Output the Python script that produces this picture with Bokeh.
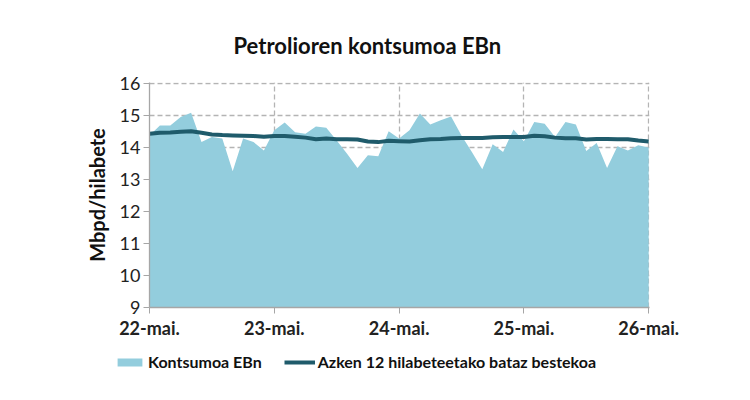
from bokeh.plotting import figure
from bokeh.layouts import column
from bokeh.models import (Range1d, FixedTicker, Legend, LegendItem, Title)
from bokeh.embed import file_html
from bokeh.resources import INLINE

# Monthly data, May 2022 .. May 2026 (49 months)
consumption = [14.37, 14.68, 14.68, 14.94, 15.08, 14.16, 14.32, 14.27, 13.25, 14.27,
               14.16, 13.90, 14.53, 14.77, 14.47, 14.42, 14.65, 14.61, 14.21, 13.80,
               13.35, 13.75, 13.72, 14.50, 14.27, 14.53, 15.05, 14.71, 14.84, 14.96,
               14.37, 13.85, 13.31, 14.09, 13.85, 14.55, 14.19, 14.79, 14.73, 14.32,
               14.79, 14.71, 13.88, 14.13, 13.35, 14.03, 13.90, 14.06, 13.99]
avg12 = [14.42, 14.45, 14.46, 14.48, 14.50, 14.45, 14.40, 14.38, 14.37, 14.36,
         14.35, 14.33, 14.35, 14.35, 14.33, 14.30, 14.25, 14.27, 14.25, 14.25,
         14.24, 14.18, 14.16, 14.20, 14.19, 14.18, 14.22, 14.25, 14.26, 14.28,
         14.29, 14.29, 14.29, 14.31, 14.32, 14.32, 14.32, 14.36, 14.34, 14.30,
         14.28, 14.28, 14.24, 14.26, 14.26, 14.25, 14.25, 14.21, 14.18]
months = list(range(len(consumption)))
tick_positions = [0, 12, 24, 36, 48]
tick_labels = ["22-mai.", "23-mai.", "24-mai.", "25-mai.", "26-mai."]
title_text = "Petrolioren kontsumoa EBn"
y_label = "Mbpd/hilabete"
series_names = ["Kontsumoa EBn", "Azken 12 hilabeteetako bataz bestekoa"]

FONT = "Lato"
AREA = "#93cddd"
LINE = "#1f5b6b"
GRID = "#b4b4b4"

p = figure(width=750, height=345, output_backend="svg", toolbar_location=None,
           x_range=Range1d(0, 48.08), y_range=Range1d(9, 16.02),
           min_border_left=149, min_border_right=101, min_border_top=82,
           min_border_bottom=38, title=None)
p.outline_line_color = None
p.background_fill_color = "white"
p.border_fill_color = "white"

# grids
p.xgrid.ticker = FixedTicker(ticks=[12, 24, 36, 48])
p.ygrid.ticker = FixedTicker(ticks=list(range(10, 17)))
for g in (p.xgrid, p.ygrid):
    g.grid_line_color = GRID
    g.grid_line_dash = "5 3"
    g.grid_line_width = 1.3
p.ygrid.level = "underlay"
p.xgrid.level = "underlay"

area = p.varea(x=months, y1=[9] * len(months), y2=consumption, fill_color=AREA,
               fill_alpha=1.0)
line = p.line(x=months, y=avg12, line_color=LINE, line_width=4)

# axes
p.xaxis.ticker = FixedTicker(ticks=tick_positions)
p.xaxis.major_label_overrides = {t: l for t, l in zip(tick_positions, tick_labels)}
p.yaxis.ticker = FixedTicker(ticks=list(range(9, 17)))
for ax in (p.xaxis[0], p.yaxis[0]):
    ax.axis_line_color = "#a6a6a6"
    ax.axis_line_width = 1.3
    ax.major_tick_line_color = "#a6a6a6"
    ax.major_tick_out = 6
    ax.major_tick_in = 0
    ax.minor_tick_line_color = None
    ax.major_label_text_font = FONT
    ax.major_label_text_color = "#222222"
p.xaxis.major_label_text_font_size = "18px"
p.xaxis.major_label_text_font_style = "bold"
p.xaxis.major_label_standoff = 3
p.yaxis.major_label_text_font_size = "18px"
p.yaxis.major_label_standoff = 3
p.yaxis.axis_label = y_label
p.yaxis.axis_label_text_font = FONT
p.yaxis.axis_label_text_font_size = "20px"
p.yaxis.axis_label_text_font_style = "bold"
p.yaxis.axis_label_text_color = "#111111"
p.yaxis.axis_label_standoff = 8

# title
p.add_layout(Title(text=title_text, align="left", offset=84, standoff=48,
                   text_font=FONT, text_font_size="22px", text_font_style="bold",
                   text_color="#111111"), "above")

# legend strip below the chart
lg = figure(width=750, height=55, output_backend="svg", toolbar_location=None,
            x_range=Range1d(0, 750), y_range=Range1d(0, 55),
            x_axis_type=None, y_axis_type=None,
            min_border_left=0, min_border_right=0, min_border_top=0,
            min_border_bottom=0)
try:
    lg.frame_align = False
except Exception:
    pass
lg.outline_line_color = None
lg.xgrid.visible = False
lg.ygrid.visible = False
sw_area = lg.quad(left=[-20], right=[-10], top=[-10], bottom=[-20],
                  fill_color=AREA, line_color=None)
sw_line = lg.line(x=[-20, -10], y=[-10, -10], line_color=LINE, line_width=4)
legend = Legend(items=[LegendItem(label=series_names[0], renderers=[sw_area]),
                       LegendItem(label=series_names[1], renderers=[sw_line])],
                orientation="horizontal", location=(114, 29),
                label_text_font=FONT, label_text_font_size="16px",
                label_text_font_style="bold", label_text_color="#111111",
                glyph_width=31, glyph_height=10, spacing=22,
                label_standoff=3, background_fill_alpha=0, border_line_color=None,
                padding=0, margin=0)
lg.add_layout(legend, "center")

layout = column(p, lg, spacing=0)
open("out.html", "w").write(file_html(layout, INLINE))
